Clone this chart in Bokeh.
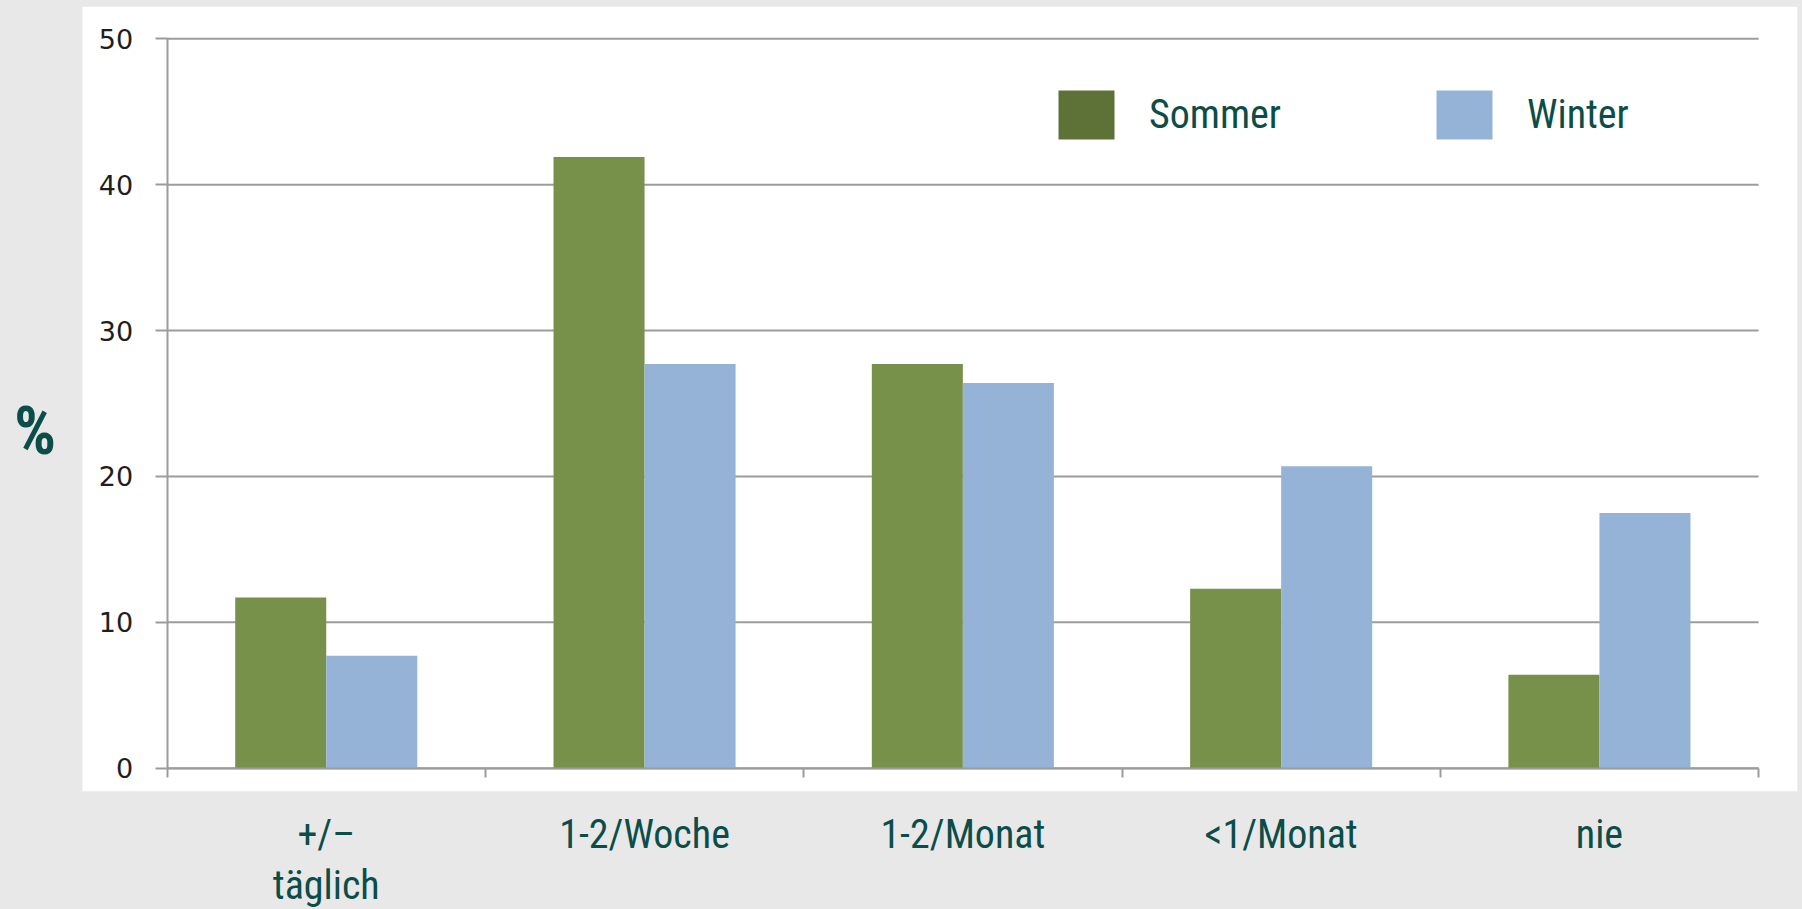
from bokeh.plotting import figure
from bokeh.models import (ColumnDataSource, Range1d, LinearAxis, FixedTicker,
                          Legend, LegendItem, Label, BoxAnnotation)
from bokeh.transform import dodge
from bokeh.embed import file_html
from bokeh.resources import INLINE

# ---- data ----
categories = ["+/–\ntäglich", "1-2/Woche", "1-2/Monat", "<1/Monat", "nie"]
sommer = [11.7, 41.9, 27.7, 12.3, 6.4]
winter = [7.7, 27.7, 26.4, 20.7, 17.5]
series_names = ["Sommer", "Winter"]
y_ticks = [0, 10, 20, 30, 40, 50]
y_title = "%"

# ---- style ----
BG = "#E8E8E8"
TEAL = "#0B4D48"
GREEN = "#77914A"
GREEN_LEGEND = "#5E7237"
BLUE = "#95B3D7"
GRID = "#9C9C9C"
NARROW = "'Liberation Sans Narrow', 'Roboto Condensed', 'DejaVu Sans Condensed', 'Liberation Sans', sans-serif"

n = len(categories)
centers = [i + 0.5 for i in range(n)]
src = ColumnDataSource(dict(x=centers, sommer=sommer, winter=winter))

p = figure(frame_width=1797, frame_height=785,
           x_range=Range1d(-0.5234, 5.1222), y_range=Range1d(-1.597, 52.214),
           output_backend="svg", toolbar_location=None,
           x_axis_type=None, y_axis_type=None,
           min_border_left=0, min_border_right=5, min_border_top=6,
           min_border_bottom=118,
           background_fill_color=BG, border_fill_color=BG,
           outline_line_color=None)

# white chart panel
p.add_layout(BoxAnnotation(left=-0.2658, fill_color="white", fill_alpha=1,
                           line_color=None, level="underlay"))

# horizontal grid lines over the category span
grid_src = ColumnDataSource(dict(y=y_ticks, x0=[0] * len(y_ticks), x1=[n] * len(y_ticks)))
p.segment(x0="x0", x1="x1", y0="y", y1="y", source=grid_src,
          line_color=GRID, line_width=2)

bw = 0.286
p.vbar(x=dodge("x", -bw / 2, range=p.x_range), top="sommer", width=bw,
       source=src, fill_color=GREEN, line_color=None)
p.vbar(x=dodge("x", bw / 2, range=p.x_range), top="winter", width=bw,
       source=src, fill_color=BLUE, line_color=None)

# legend proxies (zero-height; legend swatch is a darker green than the bars)
leg_s = p.vbar(x=dodge("x", -bw / 2, range=p.x_range), top=0, width=bw,
               source=src, fill_color=GREEN_LEGEND, line_color=None)
leg_w = p.vbar(x=dodge("x", bw / 2, range=p.x_range), top=0, width=bw,
               source=src, fill_color=BLUE, line_color=None)

# y axis drawn inside the white panel at x=0
yaxis = LinearAxis(fixed_location=0, ticker=FixedTicker(ticks=y_ticks),
                   bounds=(0, 50))
yaxis.axis_line_color = GRID
yaxis.axis_line_width = 2
yaxis.major_tick_line_color = GRID
yaxis.major_tick_line_width = 2
yaxis.major_tick_out = 12
yaxis.major_tick_in = 0
yaxis.minor_tick_line_color = None
yaxis.major_label_standoff = 22
yaxis.major_label_text_font = "DejaVu Sans"
yaxis.major_label_text_font_size = "27px"
yaxis.major_label_text_color = "#1E1E1E"
p.add_layout(yaxis, "left")

# "%" title in the grey strip on the left
p.add_layout(Label(x=-0.415, y=23.11, text=y_title, text_align="center",
                   text_baseline="middle", text_font=NARROW,
                   text_font_style="bold", text_font_size="66px",
                   text_color=TEAL))

# category labels below the panel
xlab = LinearAxis(ticker=FixedTicker(ticks=centers),
                  major_label_overrides={c: lab for c, lab in zip(centers, categories)})
xlab.axis_line_color = None
xlab.major_tick_line_color = None
xlab.minor_tick_line_color = None
xlab.major_tick_out = 0
xlab.major_tick_in = 0
xlab.major_label_standoff = 19
xlab.major_label_text_font = NARROW
xlab.major_label_text_font_size = "40px"
xlab.major_label_text_color = TEAL
xlab.major_label_text_line_height = 1.1
p.add_layout(xlab, "below")

# x axis line with boundary ticks at y=0
xaxis = LinearAxis(fixed_location=0, ticker=FixedTicker(ticks=list(range(n + 1))),
                   bounds=(0, n))
xaxis.axis_line_color = GRID
xaxis.axis_line_width = 2
xaxis.major_tick_line_color = GRID
xaxis.major_tick_line_width = 2
xaxis.major_tick_out = 9
xaxis.major_tick_in = 0
xaxis.minor_tick_line_color = None
xaxis.major_label_text_color = None
xaxis.major_label_text_font_size = "1px"
xaxis.major_label_standoff = 0
p.add_layout(xaxis, "below")

legend = Legend(items=[LegendItem(label=series_names[0], renderers=[leg_s]),
                       LegendItem(label=series_names[1], renderers=[leg_w])],
                orientation="horizontal", location=(1051, 646),
                glyph_width=70, glyph_height=61, label_standoff=28,
                label_width=150, label_height=61, spacing=130,
                padding=0, margin=0, border_line_color=None,
                background_fill_alpha=0,
                label_text_font=NARROW, label_text_font_size="40px",
                label_text_color=TEAL)
p.add_layout(legend)

html = file_html(p, INLINE, title="Sommer / Winter")
html = html.replace("</head>",
                    "<style>html,body{background:#E8E8E8;overflow:hidden;}</style></head>", 1)
open("out.html", "w").write(html)
